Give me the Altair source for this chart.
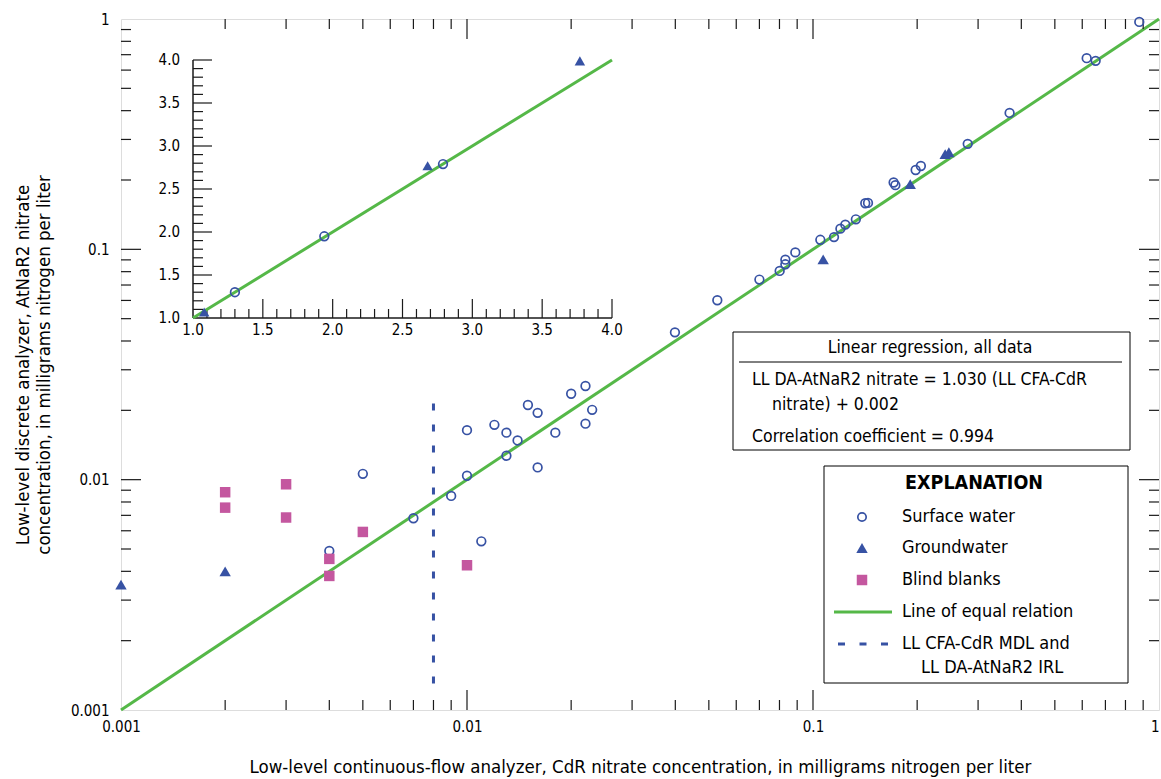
import altair as alt
import pandas as pd

# ---------------- data ----------------
# Surface water (open circles)
sw_x = [0.877, 0.618, 0.656, 0.370, 0.280, 0.198, 0.205, 0.171, 0.173, 0.1416, 0.1442,
        0.133, 0.124, 0.120, 0.115, 0.105, 0.0889, 0.0832, 0.0832, 0.0801, 0.070, 0.0529,
        0.0399, 0.0220, 0.0200, 0.0230, 0.0220, 0.0150, 0.0160, 0.0180, 0.0120, 0.0130,
        0.0140, 0.0130, 0.0160, 0.0100, 0.0100, 0.0090, 0.0070, 0.0110, 0.0050, 0.0040]
sw_y = [0.971, 0.676, 0.658, 0.391, 0.287, 0.221, 0.230, 0.195, 0.190, 0.1585, 0.159,
        0.135, 0.128, 0.123, 0.113, 0.110, 0.097, 0.0902, 0.0861, 0.0806, 0.0739, 0.0601,
        0.0436, 0.0255, 0.0236, 0.0201, 0.0175, 0.0211, 0.0195, 0.0160, 0.0173, 0.0160,
        0.0148, 0.0127, 0.0113, 0.0164, 0.0104, 0.0085, 0.0068, 0.0054, 0.0106, 0.0049]
# Groundwater (filled triangles)
gw_x = [0.001, 0.002, 0.107, 0.191, 0.241, 0.247]
gw_y = [0.0035, 0.0040, 0.0905, 0.192, 0.259, 0.264]
# Blind blanks (filled squares)
bb_x = [0.002, 0.002, 0.003, 0.003, 0.004, 0.004, 0.005, 0.010]
bb_y = [0.00882, 0.00756, 0.00955, 0.00685, 0.00453, 0.00382, 0.00593, 0.00425]
# Line of equal relation
eq_vals = [0.001, 1.0]
# MDL / IRL dashed line
mdl_x = [0.008]
mdl_lo = [0.0013]
mdl_hi = [0.0214]

# Inset (linear, 1 to 4)
in_sw_x = [1.30, 1.94, 2.79]
in_sw_y = [1.30, 1.95, 2.79]
in_gw_x = [1.08, 2.68, 3.77]
in_gw_y = [1.07, 2.77, 3.99]
in_eq = [1.0, 4.0]

# tick values / labels
log_major_labels = [0.001, 0.01, 0.1, 1.0]
log_major_inner = [0.01, 0.1]
log_minor = [m * 10.0 ** k for k in (-3, -2, -1) for m in range(2, 10)]
in_major = [1.5, 2.0, 2.5, 3.0, 3.5, 4.0]
in_labels = [1.0, 1.5, 2.0, 2.5, 3.0, 3.5, 4.0]
in_minor = [round(1 + i / 10, 1) for i in range(1, 30) if i % 5 != 0]

x_title = "Low-level continuous-flow analyzer, CdR nitrate concentration, in milligrams nitrogen per liter"
y_title = ["Low-level discrete analyzer, AtNaR2 nitrate",
           "concentration, in milligrams nitrogen per liter"]
legend_labels = ["Surface water", "Groundwater", "Blind blanks",
                 "Line of equal relation", "LL CFA-CdR MDL and", "LL DA-AtNaR2 IRL"]
reg_lines = ["Linear regression, all data",
             "LL DA-AtNaR2 nitrate = 1.030 (LL CFA-CdR",
             "nitrate) + 0.002",
             "Correlation coefficient = 0.994"]

# ---------------- style ----------------
W, H = 1038, 691
BLUE = "#3752a4"
GREEN = "#55b848"
PINK = "#c4579f"
FONT = "DejaVu Sans Condensed, Roboto, sans-serif"
REG_TXT = 17.5
LEG_TXT = 18

xs = alt.Scale(type="log", domain=[0.001, 1])
ys = alt.Scale(type="log", domain=[0.001, 1])

AX = alt.Axis(values=log_major_labels, labelExpr="format(datum.value, '~g')",
              ticks=False, domain=False, grid=False, title=x_title,
              labelFont=FONT, labelFontSize=15, labelPadding=9, labelColor="black",
              labelOverlap=False, labelFlush=False,
              labelAlign={"condition": {"test": "datum.value >= 1", "value": "right"},
                          "value": "center"},
              titleFont=FONT, titleFontSize=18.5, titleFontWeight="normal",
              titleColor="black", titlePadding=23)
AY = alt.Axis(values=log_major_labels, labelExpr="format(datum.value, '~g')",
              ticks=False, domain=False, grid=False, title=y_title,
              labelFont=FONT, labelFontSize=15, labelPadding=12, labelColor="black",
              labelOverlap=False, labelFlush=False,
              titleFont=FONT, titleFontSize=18.5, titleFontWeight="normal",
              titleColor="black", titlePadding=17, titleLineHeight=21)


def MX(f):
    return alt.X(f, type="quantitative", scale=xs, axis=AX)


def MY(f):
    return alt.Y(f, type="quantitative", scale=ys, axis=AY)


one = pd.DataFrame({"a": [0]})

# ---------------- main layers ----------------
eq = alt.Chart(pd.DataFrame({"x": eq_vals, "y": eq_vals})).mark_line(
    color=GREEN, strokeWidth=3).encode(x=MX("x"), y=MY("y"))

mdl = alt.Chart(pd.DataFrame({"x": mdl_x, "y": mdl_hi, "y2": mdl_lo})).mark_rule(
    color=BLUE, strokeWidth=3, strokeDash=[7, 14]).encode(
    x=MX("x"), y=MY("y"), y2="y2:Q")

sw = alt.Chart(pd.DataFrame({"x": sw_x, "y": sw_y})).mark_point(
    shape="circle", filled=False, size=75, color=BLUE, strokeWidth=1.7, opacity=1
).encode(x=MX("x"), y=MY("y"))

gw = alt.Chart(pd.DataFrame({"x": gw_x, "y": gw_y})).mark_point(
    shape="triangle-up", filled=True, size=130, color=BLUE, opacity=1
).encode(x=MX("x"), y=MY("y"))

bb = alt.Chart(pd.DataFrame({"x": bb_x, "y": bb_y})).mark_point(
    shape="square", filled=True, size=110, color=PINK, opacity=1
).encode(x=MX("x"), y=MY("y"))

dmin_x = pd.DataFrame({"x": log_minor})
dmaj_x = pd.DataFrame({"x": log_major_inner})
dmin_y = pd.DataFrame({"y": log_minor})
dmaj_y = pd.DataFrame({"y": log_major_inner})
TK = dict(color="#1a1a1a", strokeWidth=1.2)
ticks = [
    # bottom (pointing up)
    alt.Chart(dmin_x).mark_rule(**TK).encode(x=MX("x"), y=alt.value(H), y2=alt.value(H - 10)),
    alt.Chart(dmaj_x).mark_rule(**TK).encode(x=MX("x"), y=alt.value(H), y2=alt.value(H - 20)),
    # top (pointing down)
    alt.Chart(dmin_x).mark_rule(**TK).encode(x=MX("x"), y=alt.value(0), y2=alt.value(10)),
    alt.Chart(dmaj_x).mark_rule(**TK).encode(x=MX("x"), y=alt.value(0), y2=alt.value(20)),
    # left (pointing right)
    alt.Chart(dmin_y).mark_rule(**TK).encode(y=MY("y"), x=alt.value(0), x2=alt.value(10)),
    alt.Chart(dmaj_y).mark_rule(**TK).encode(y=MY("y"), x=alt.value(0), x2=alt.value(20)),
    # right (pointing left)
    alt.Chart(dmin_y).mark_rule(**TK).encode(y=MY("y"), x=alt.value(W), x2=alt.value(W - 10)),
    alt.Chart(dmaj_y).mark_rule(**TK).encode(y=MY("y"), x=alt.value(W), x2=alt.value(W - 20)),
]


def txt(s, x, y, size=LEG_TXT, align="left", weight="normal"):
    return alt.Chart(pd.DataFrame({"t": [s]})).mark_text(
        align=align, baseline="middle", fontSize=size, font=FONT,
        fontWeight=weight, color="black").encode(
        x=alt.value(x), y=alt.value(y), text="t:N")


def box(x1, x2, y1, y2):
    return alt.Chart(one).mark_rect(fill="white", stroke="black", strokeWidth=1).encode(
        x=alt.value(x1), x2=alt.value(x2), y=alt.value(y1), y2=alt.value(y2))


# regression box
reg = [
    box(612, 1009, 313, 431),
    alt.Chart(one).mark_rule(color="black", strokeWidth=1).encode(
        x=alt.value(618), x2=alt.value(1001), y=alt.value(343)),
    txt(reg_lines[0], 809, 329, size=REG_TXT, align="center"),
    txt(reg_lines[1], 631, 361, size=REG_TXT),
    txt(reg_lines[2], 651, 386, size=REG_TXT),
    txt(reg_lines[3], 631, 418, size=REG_TXT),
]

# explanation box
LX_SYM, LX_TXT = 741, 781
leg = [
    box(703, 1007, 447, 664),
    txt("EXPLANATION", 853, 464, size=19.5, align="center", weight="bold"),
    alt.Chart(one).mark_point(shape="circle", filled=False, size=70, color=BLUE,
                              strokeWidth=1.7, opacity=1).encode(
        x=alt.value(LX_SYM), y=alt.value(498)),
    alt.Chart(one).mark_point(shape="triangle-up", filled=True, size=130, color=BLUE,
                              opacity=1).encode(x=alt.value(LX_SYM), y=alt.value(529)),
    alt.Chart(one).mark_point(shape="square", filled=True, size=110, color=PINK,
                              opacity=1).encode(x=alt.value(LX_SYM), y=alt.value(561)),
    alt.Chart(one).mark_rule(color=GREEN, strokeWidth=3).encode(
        x=alt.value(713), x2=alt.value(771), y=alt.value(593)),
    alt.Chart(one).mark_rule(color=BLUE, strokeWidth=3, strokeDash=[7, 14.5]).encode(
        x=alt.value(717), x2=alt.value(767), y=alt.value(625)),
    txt(legend_labels[0], LX_TXT, 498),
    txt(legend_labels[1], LX_TXT, 529),
    txt(legend_labels[2], LX_TXT, 561),
    txt(legend_labels[3], LX_TXT, 593),
    txt(legend_labels[4], LX_TXT, 625),
    txt(legend_labels[5], 800, 649),
]

main = alt.layer(eq, mdl, *ticks, sw, gw, bb, *reg, *leg)

# ---------------- inset ----------------
IX0, IX1 = 72, 491     # pixel range of inset x (1 -> 4)
IY0, IY1 = 299, 41     # pixel range of inset y (1 -> 4)
ixs = alt.Scale(domain=[1, 4], range=[IX0, IX1], nice=False, zero=False)
iys = alt.Scale(domain=[1, 4], range=[IY0, IY1], nice=False, zero=False)


def IX(f):
    return alt.X(f, type="quantitative", scale=ixs, axis=None)


def IY(f):
    return alt.Y(f, type="quantitative", scale=iys, axis=None)


ITK = dict(color="#1a1a1a", strokeWidth=1.2)
inset_layers = [
    # axis lines
    alt.Chart(pd.DataFrame({"x": [1.0], "x2": [4.0], "y": [1.0]})).mark_rule(
        color="#1a1a1a", strokeWidth=1.5).encode(x=IX("x"), x2="x2:Q", y=IY("y")),
    alt.Chart(pd.DataFrame({"y": [1.0], "y2": [4.0], "x": [1.0]})).mark_rule(
        color="#1a1a1a", strokeWidth=1.5).encode(y=IY("y"), y2="y2:Q", x=IX("x")),
    # ticks on x axis (pointing up)
    alt.Chart(pd.DataFrame({"x": in_minor})).mark_rule(**ITK).encode(
        x=IX("x"), y=alt.value(IY0), y2=alt.value(IY0 - 9)),
    alt.Chart(pd.DataFrame({"x": in_major})).mark_rule(**ITK).encode(
        x=IX("x"), y=alt.value(IY0), y2=alt.value(IY0 - 19)),
    # ticks on y axis (pointing right)
    alt.Chart(pd.DataFrame({"y": in_minor})).mark_rule(**ITK).encode(
        y=IY("y"), x=alt.value(IX0), x2=alt.value(IX0 + 10)),
    alt.Chart(pd.DataFrame({"y": in_major})).mark_rule(**ITK).encode(
        y=IY("y"), x=alt.value(IX0), x2=alt.value(IX0 + 19)),
    # labels
    alt.Chart(pd.DataFrame({"v": in_labels})).mark_text(
        align="center", baseline="top", fontSize=15, font=FONT, color="black").encode(
        x=IX("v"), y=alt.value(IY0 + 5), text=alt.Text("v:Q", format=".1f")),
    alt.Chart(pd.DataFrame({"v": in_labels})).mark_text(
        align="right", baseline="middle", fontSize=15, font=FONT, color="black").encode(
        y=IY("v"), x=alt.value(IX0 - 13), text=alt.Text("v:Q", format=".1f")),
    # line and points
    alt.Chart(pd.DataFrame({"x": in_eq, "y": in_eq})).mark_line(
        color=GREEN, strokeWidth=3).encode(x=IX("x"), y=IY("y")),
    alt.Chart(pd.DataFrame({"x": in_sw_x, "y": in_sw_y})).mark_point(
        shape="circle", filled=False, size=75, color=BLUE, strokeWidth=1.7, opacity=1
    ).encode(x=IX("x"), y=IY("y")),
    alt.Chart(pd.DataFrame({"x": in_gw_x, "y": in_gw_y})).mark_point(
        shape="triangle-up", filled=True, size=110, color=BLUE, opacity=1
    ).encode(x=IX("x"), y=IY("y")),
]
inset = alt.layer(*inset_layers)

chart = alt.layer(main, inset).resolve_scale(
    x="independent", y="independent"
).properties(
    width=W, height=H,
    autosize=alt.AutoSizeParams(type="none"),
    padding={"left": 121, "top": 19, "right": 2, "bottom": 69},
).configure_view(stroke="#1a1a1a", strokeWidth=1.5).configure(font=FONT)

chart.save("out.html", embed_options={"renderer": "svg", "actions": False})
